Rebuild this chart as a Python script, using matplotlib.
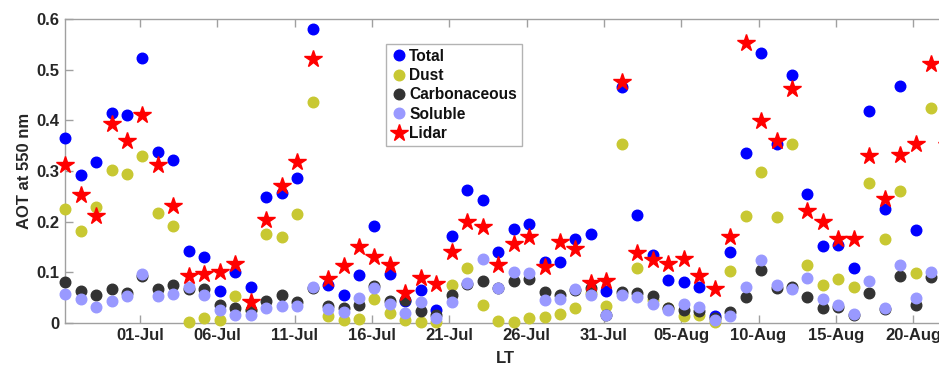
import matplotlib
matplotlib.use("Agg")
import matplotlib.pyplot as plt
import matplotlib.dates as mdates
import numpy as np
import pandas as pd

plt.rcParams["font.family"] = ["Liberation Sans", "DejaVu Sans"]
plt.rcParams["font.weight"] = "bold"

# daily values, 26-Jun .. 22-Aug
dates = pd.date_range("2016-06-26 04:00", periods=58, freq="D")

total = [0.365, 0.293, 0.317, 0.414, 0.410, 0.523, 0.338, 0.321, 0.143, 0.131,
         0.064, 0.100, 0.072, 0.248, 0.256, 0.287, 0.580, 0.074, 0.056, 0.094,
         0.192, 0.097, 0.044, 0.066, 0.025, 0.171, 0.263, 0.243, 0.141, 0.185,
         0.196, 0.120, 0.120, 0.166, 0.176, 0.064, 0.465, 0.214, 0.135, 0.084,
         0.080, 0.072, 0.014, 0.141, 0.336, 0.532, 0.354, 0.489, 0.255, 0.152,
         0.154, 0.108, 0.419, 0.225, 0.468, 0.184, np.nan, 0.277]
dust = [0.225, 0.181, 0.229, 0.301, 0.294, 0.329, 0.217, 0.191, 0.001, 0.010,
        0.005, 0.054, 0.025, 0.175, 0.170, 0.215, 0.436, 0.013, 0.005, 0.008,
        0.048, 0.020, 0.005, 0.001, 0.001, 0.074, 0.108, 0.035, 0.003, 0.001,
        0.010, 0.011, 0.018, 0.030, 0.060, 0.034, 0.353, 0.108, 0.045, 0.030,
        0.014, 0.015, 0.001, 0.103, 0.212, 0.299, 0.210, 0.353, 0.114, 0.074,
        0.087, 0.071, 0.277, 0.166, 0.260, 0.099, 0.425, 0.144]
carbon = [0.080, 0.064, 0.055, 0.068, 0.060, 0.093, 0.068, 0.074, 0.067, 0.068,
          0.035, 0.030, 0.026, 0.043, 0.055, 0.041, 0.069, 0.034, 0.030, 0.036,
          0.073, 0.043, 0.045, 0.023, 0.016, 0.056, 0.076, 0.083, 0.069, 0.083,
          0.087, 0.061, 0.056, 0.065, 0.070, 0.016, 0.061, 0.059, 0.053, 0.030,
          0.026, 0.023, 0.010, 0.022, 0.051, 0.105, 0.069, 0.071, 0.052, 0.029,
          0.031, 0.015, 0.059, 0.028, 0.093, 0.036, 0.091, 0.050]
soluble = [0.058, 0.047, 0.032, 0.043, 0.054, 0.097, 0.054, 0.057, 0.072, 0.055,
           0.025, 0.016, 0.016, 0.030, 0.034, 0.033, 0.072, 0.028, 0.022, 0.049,
           0.070, 0.037, 0.020, 0.041, 0.009, 0.042, 0.079, 0.126, 0.069, 0.100,
           0.099, 0.046, 0.048, 0.067, 0.055, 0.016, 0.056, 0.051, 0.038, 0.025,
           0.037, 0.032, 0.005, 0.014, 0.071, 0.124, 0.075, 0.068, 0.089, 0.047,
           0.036, 0.018, 0.082, 0.029, 0.114, 0.049, 0.101, 0.053]
lidar = [0.312, 0.252, 0.212, 0.392, 0.359, 0.410, 0.312, 0.230, 0.092, 0.097,
         0.100, 0.116, 0.041, 0.204, 0.271, 0.317, 0.522, 0.087, 0.112, 0.149,
         0.131, 0.115, 0.059, 0.089, 0.076, 0.141, 0.200, 0.189, 0.115, 0.156,
         0.169, 0.110, 0.159, 0.146, 0.079, 0.082, 0.476, 0.139, 0.125, 0.116,
         0.126, 0.093, 0.067, 0.169, 0.552, 0.399, 0.360, 0.461, 0.222, 0.200,
         0.166, 0.166, 0.329, 0.244, 0.331, 0.353, 0.512, 0.351]

tick_dates = pd.date_range("2016-07-01", "2016-08-20", freq="5D")

fig = plt.figure(figsize=(9.39, 3.71), dpi=100)
# axes run a little past the right edge, as in the cropped original
ax = fig.add_axes([0.0687, 0.1294, 0.9398, 0.8194])

ms = 7.6
kw = dict(linestyle="none", clip_on=False, zorder=3)
ax.plot(dates, total, marker="o", color="#0000FF", ms=ms, label="Total", **kw)
ax.plot(dates, dust, marker="o", color="#C8C832", ms=ms, label="Dust", **kw)
ax.plot(dates, carbon, marker="o", color="#333333", ms=ms, label="Carbonaceous", **kw)
ax.plot(dates, soluble, marker="o", color="#9999FF", ms=ms, label="Soluble", **kw)
ax.plot(dates, lidar, marker="*", color="#FF0000", ms=13, label="Lidar", **kw)

ax.set_xlim(pd.Timestamp("2016-06-26 03:00"), pd.Timestamp("2016-08-22 04:30"))
ax.set_ylim(0, 0.6)
ax.set_xticks(tick_dates)
ax.xaxis.set_major_formatter(mdates.DateFormatter("%d-%b"))
ax.set_yticks(np.arange(0, 0.61, 0.1))
ax.set_yticklabels(["0", "0.1", "0.2", "0.3", "0.4", "0.5", "0.6"])

for s in ax.spines.values():
    s.set_color("#A0A0A0")
    s.set_linewidth(1.0)
ax.tick_params(direction="in", top=True, right=True, length=6, width=1,
               color="#A0A0A0", labelcolor="#262626", labelsize=12)
ax.set_ylabel("AOT at 550 nm", fontsize=12, fontweight="bold", color="#262626",
              labelpad=3)
ax.set_xlabel("LT", fontsize=12, fontweight="bold", color="#262626", labelpad=6)

leg = ax.legend(loc="upper left", bbox_to_anchor=(386 / 939, 1 - 44 / 371),
                bbox_transform=fig.transFigure, fontsize=11.2, frameon=True,
                fancybox=False, edgecolor="#A0A0A0", handletextpad=0.1,
                handlelength=1.1, borderpad=0.3, labelspacing=0.28,
                borderaxespad=0)
leg.get_frame().set_linewidth(1.0)
for t in leg.get_texts():
    t.set_color("#111111")

plt.savefig("out.png", dpi=100)
